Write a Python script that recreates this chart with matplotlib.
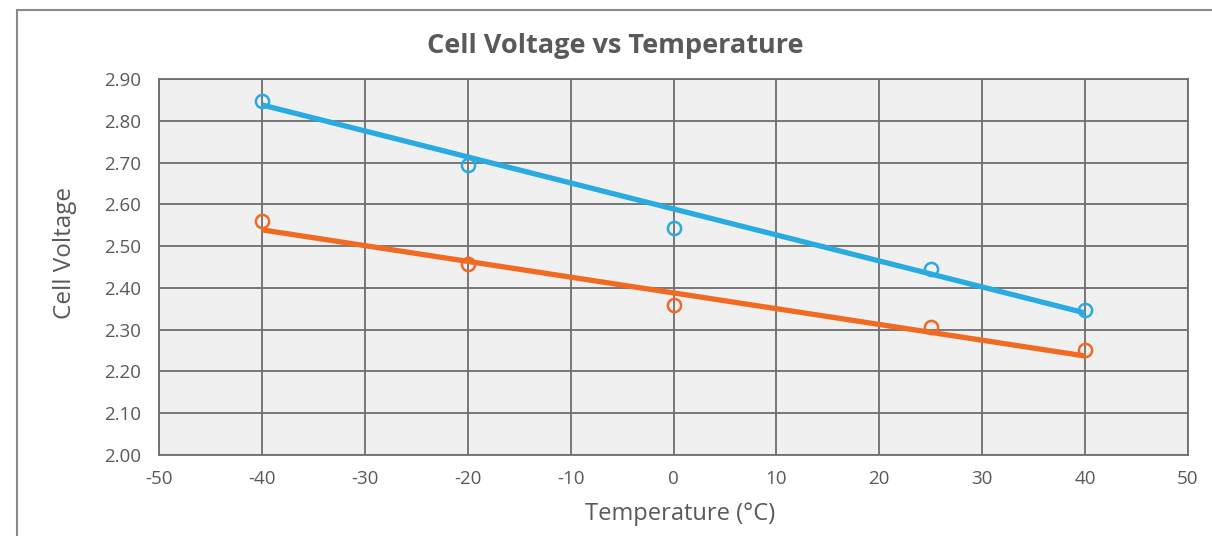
import numpy as np
import matplotlib.pyplot as plt
from matplotlib.patches import Rectangle

plt.rcParams['font.family'] = ['Open Sans', 'DejaVu Sans']

# measured points
temp = [ -40, -20, 0, 25, 40 ]
volt_a = [ 2.847, 2.694, 2.543, 2.445, 2.347 ]
volt_b = [ 2.560, 2.457, 2.359, 2.307, 2.252 ]

# trend line end points
trend_x = [ -40, 40 ]
trend_a = [ 2.838, 2.340 ]
trend_b = [ 2.539, 2.237 ]

x_ticks = list( range( -50, 51, 10 ) )
y_ticks = [ 2.0, 2.1, 2.2, 2.3, 2.4, 2.5, 2.6, 2.7, 2.8, 2.9 ]

blue = '#29aae1'
orange = '#f26a22'
grid_c = '#6e6e6e'
text_c = '#595959'

fig = plt.figure( figsize = ( 12.12, 5.36 ), dpi = 100 )
fig.patches.append( Rectangle( ( 17 / 1212, -0.1 ), 1.2, 1 - 10 / 536 + 0.1,
                               transform = fig.transFigure, fill = False,
                               edgecolor = '#8a8a8a', linewidth = 1.5 ) )

ax = fig.add_axes( [ 159 / 1212, 1 - 455 / 536, 1029 / 1212, 376 / 536 ] )
ax.set_facecolor( '#f0f0f0' )

ax.plot( trend_x, trend_a, color = blue, linewidth = 3.8, solid_capstyle = 'butt', zorder = 3 )
ax.plot( trend_x, trend_b, color = orange, linewidth = 3.8, solid_capstyle = 'butt', zorder = 3 )
ax.plot( temp, volt_a, 'o', markersize = 9.5, markerfacecolor = 'none',
         markeredgecolor = blue, markeredgewidth = 1.8, zorder = 4 )
ax.plot( temp, volt_b, 'o', markersize = 9.5, markerfacecolor = 'none',
         markeredgecolor = orange, markeredgewidth = 1.8, zorder = 4 )

ax.set_xlim( -50, 50 )
ax.set_ylim( 2.0, 2.9 )
ax.set_xticks( x_ticks )
ax.set_yticks( y_ticks )
ax.set_xticklabels( [ f'{t}' for t in x_ticks ] )
ax.set_yticklabels( [ f'{v:.2f}' for v in y_ticks ] )
ax.tick_params( length = 0, labelsize = 13.5, colors = text_c )
ax.tick_params( axis = 'x', pad = 11 )
ax.tick_params( axis = 'y', pad = 13 )
ax.grid( True, color = grid_c, linewidth = 1.3 )
ax.set_axisbelow( True )
for s in ax.spines.values():
    s.set_color( grid_c )
    s.set_linewidth( 1.3 )

fig.text( 615 / 1212, 1 - 46 / 536, 'Cell Voltage vs Temperature', ha = 'center', va = 'center',
          fontsize = 19.5, fontweight = 'bold', color = text_c )
fig.text( 65 / 1212, 1 - 253 / 536, 'Cell Voltage', ha = 'center', va = 'center',
          rotation = 90, fontsize = 17.5, color = text_c )
fig.text( 680 / 1212, 1 - 514 / 536, 'Temperature (°C)', ha = 'center', va = 'center',
          fontsize = 17, color = text_c )

plt.savefig( 'out.png', dpi = 100 )
